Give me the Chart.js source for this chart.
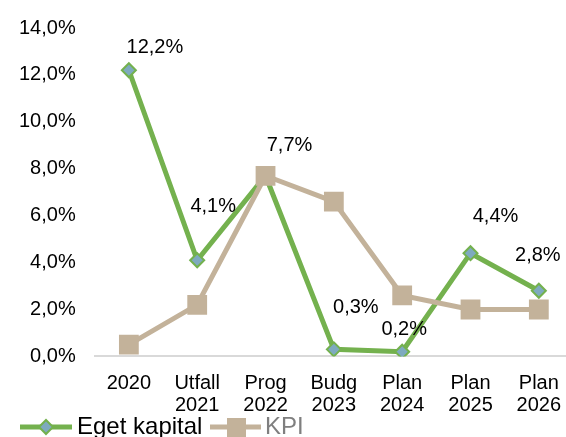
<!DOCTYPE html>
<html lang="sv">
<head>
  <meta charset="UTF-8">
  <title>Eget kapital och KPI</title>
  <style>
    body {
      margin: 0;
      background: #fff;
      overflow: hidden;
    }
    #wrap {
      width: 566px;
      height: 437px;
      overflow: hidden;
    }
  </style>
</head>
<body>
  <div id="wrap"><canvas id="chart" width="587" height="437"></canvas></div>

  <script src="https://cdn.jsdelivr.net/npm/chart.js"></script>
  <script>
    // data (percent)
    const categories = [
      ['2020'], ['Utfall', '2021'], ['Prog', '2022'], ['Budg', '2023'],
      ['Plan', '2024'], ['Plan', '2025'], ['Plan', '2026']
    ];
    const egetKapital = [12.2, 4.1, 7.7, 0.3, 0.2, 4.4, 2.8];
    const kpi = [0.5, 2.2, 7.7, 6.6, 2.6, 2.0, 2.0];
    const yTicks = [0, 2, 4, 6, 8, 10, 12, 14];

    const GREEN = '#74b14e';
    const TAN = '#c3b29a';
    const DIAMOND = '#7eaabf';
    const FONT = 'Arial, "Liberation Sans", sans-serif';

    // where each value label sits relative to its point (moved by hand in the original)
    const labelNudge = [[26, -23], [16, -54], [24, -30], [22, -42], [2, -22], [25, -37], [-1, -35]];

    const fmt = v => v.toFixed(1).replace('.', ',') + '%';

    const valueLabels = {
      id: 'valueLabels',
      afterDatasetsDraw(chart) {
        const ctx = chart.ctx;
        const meta = chart.getDatasetMeta(0);
        ctx.save();
        ctx.font = '20px ' + FONT;
        ctx.fillStyle = '#000';
        ctx.textAlign = 'center';
        ctx.textBaseline = 'middle';
        meta.data.forEach((pt, i) => {
          const n = labelNudge[i];
          ctx.fillText(fmt(egetKapital[i]), pt.x + n[0], pt.y + n[1]);
        });
        ctx.restore();
      }
    };

    // legend with line + marker samples, along the bottom edge
    const lineLegend = {
      id: 'lineLegend',
      afterDraw(chart) {
        const ctx = chart.ctx;
        const y = 427;
        ctx.save();
        ctx.lineWidth = 5;

        ctx.strokeStyle = GREEN;
        ctx.beginPath(); ctx.moveTo(20, y); ctx.lineTo(72, y); ctx.stroke();
        ctx.fillStyle = DIAMOND;
        ctx.lineWidth = 2;
        ctx.beginPath();
        ctx.moveTo(46 - 7, y); ctx.lineTo(46, y - 7); ctx.lineTo(46 + 7, y); ctx.lineTo(46, y + 7);
        ctx.closePath(); ctx.fill(); ctx.stroke();

        ctx.lineWidth = 5;
        ctx.strokeStyle = TAN;
        ctx.beginPath(); ctx.moveTo(210, y); ctx.lineTo(261, y); ctx.stroke();
        ctx.fillStyle = TAN;
        ctx.fillRect(227, y - 9, 19, 19);

        ctx.font = '24px ' + FONT;
        ctx.textBaseline = 'middle';
        ctx.fillStyle = '#000';
        ctx.fillText('Eget kapital', 77, y);
        ctx.fillStyle = '#7f7f7f';
        ctx.fillText('KPI', 265, y);
        ctx.restore();
      }
    };

    new Chart(document.getElementById('chart'), {
      type: 'line',
      data: {
        labels: categories,
        datasets: [
          {
            label: 'Eget kapital',
            data: egetKapital,
            borderColor: GREEN,
            borderWidth: 5,
            pointStyle: 'rectRot',
            pointRadius: 7,
            pointBackgroundColor: DIAMOND,
            pointBorderColor: GREEN,
            pointBorderWidth: 2,
            tension: 0,
            order: 2
          },
          {
            label: 'KPI',
            data: kpi,
            borderColor: TAN,
            borderWidth: 5,
            pointStyle: 'rect',
            pointRadius: 14,
            pointBackgroundColor: TAN,
            pointBorderColor: TAN,
            pointBorderWidth: 0,
            tension: 0,
            order: 1
          }
        ]
      },
      options: {
        responsive: false,
        animation: false,
        layout: { padding: { left: 0, top: 6, right: 0, bottom: 5 } },
        plugins: {
          legend: { display: false },
          tooltip: { enabled: false }
        },
        scales: {
          x: {
            offset: true,
            grid: { display: false, drawTicks: false },
            border: { display: true, color: '#d9d9d9', width: 2 },
            ticks: {
              color: '#000',
              font: { family: FONT, size: 20, lineHeight: 1.09 },
              padding: 16,
              maxRotation: 0,
              autoSkip: false
            }
          },
          y: {
            min: 0,
            max: 14,
            afterBuildTicks: axis => { axis.ticks = yTicks.map(v => ({ value: v })); },
            grid: { display: false, drawTicks: false },
            border: { display: false },
            ticks: {
              color: '#000',
              font: { family: FONT, size: 20, lineHeight: 0.9 },
              padding: 19,
              callback: v => fmt(v)
            }
          }
        }
      },
      plugins: [valueLabels, lineLegend]
    });
  </script>
</body>
</html>
